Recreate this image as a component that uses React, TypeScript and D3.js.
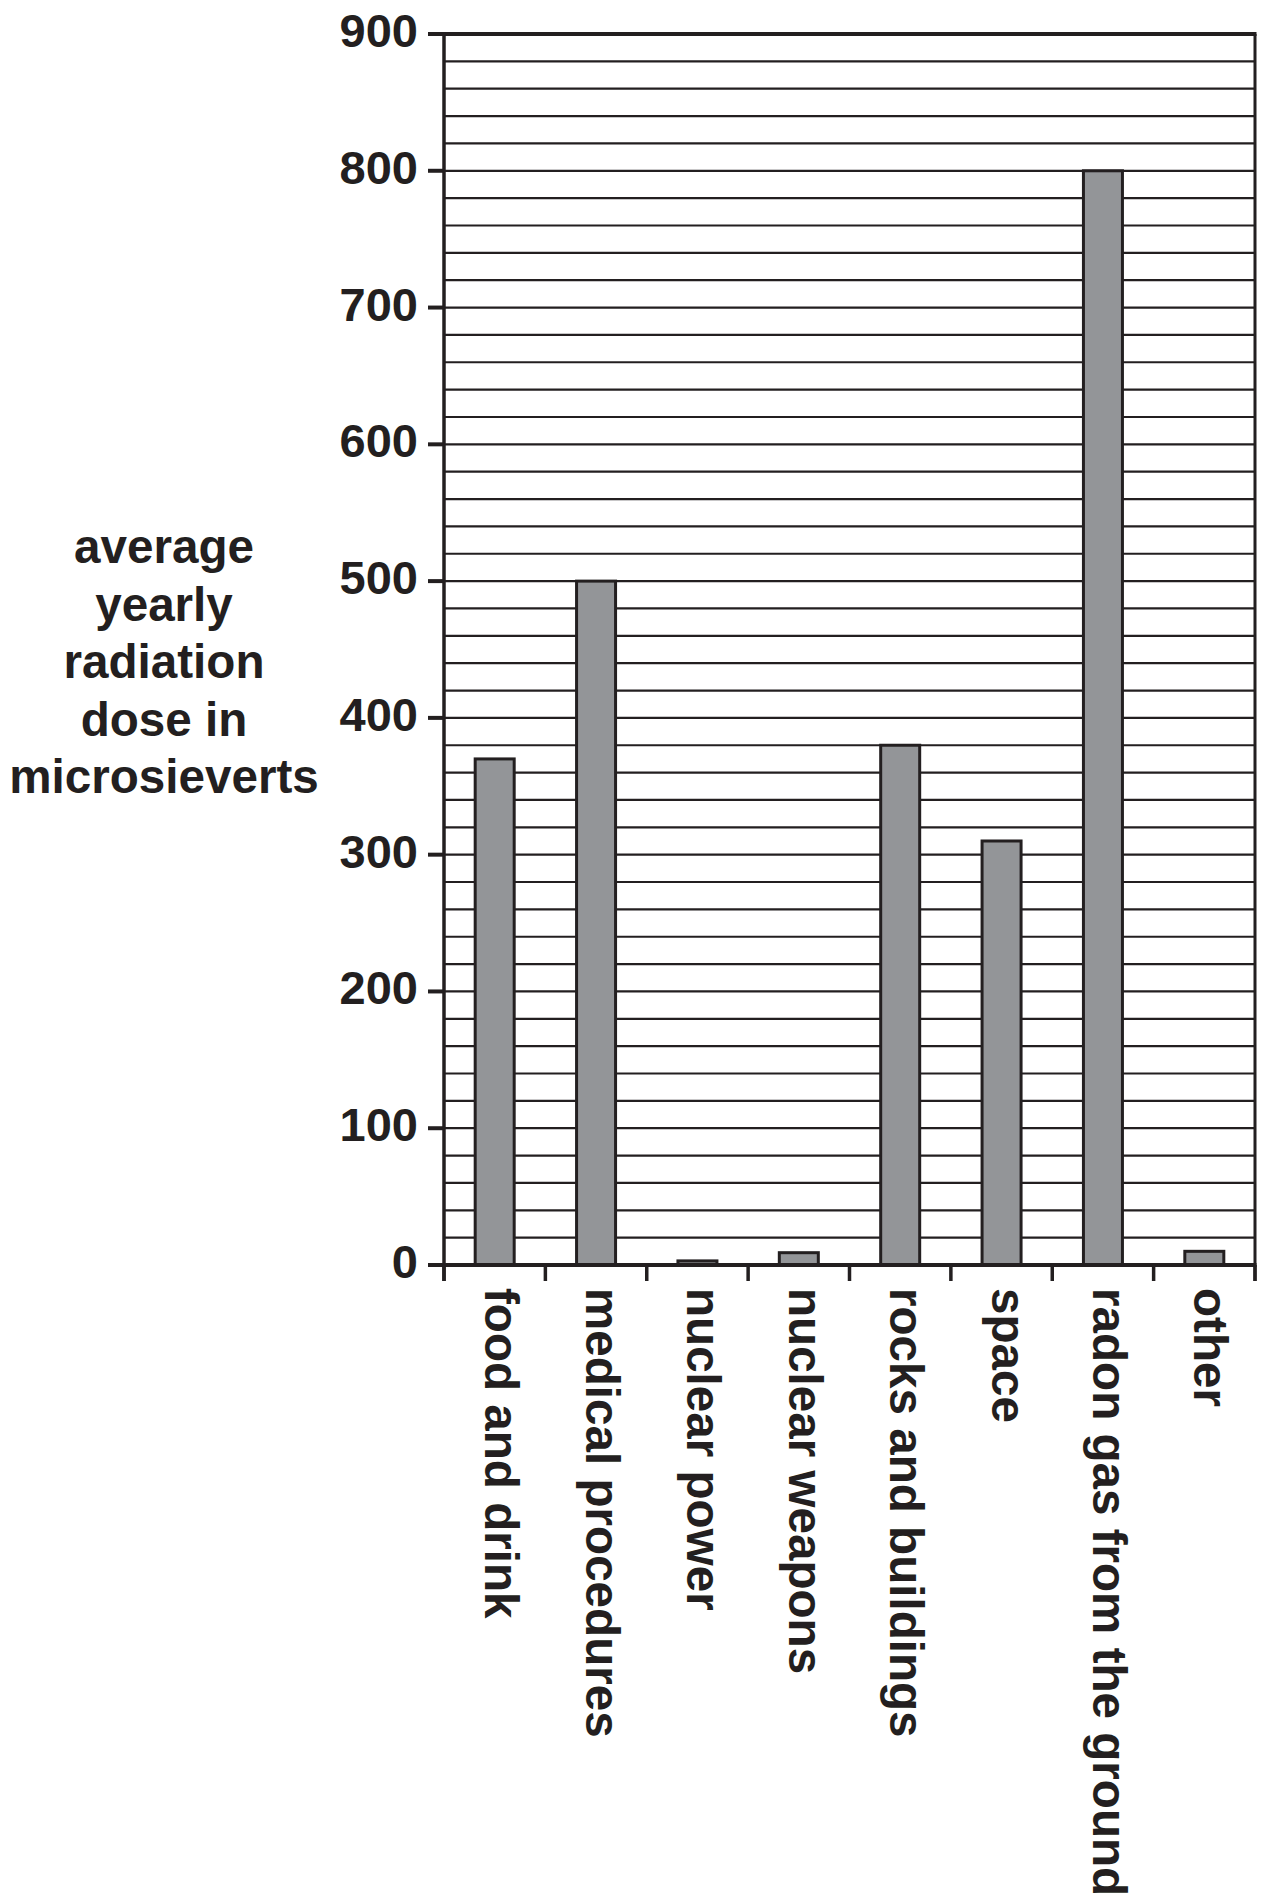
import React from "react";
import * as d3 from "d3";

const categories: string[] = [
  "food and drink",
  "medical procedures",
  "nuclear power",
  "nuclear weapons",
  "rocks and buildings",
  "space",
  "radon gas from the ground",
  "other",
];
const values: number[] = [370, 500, 3, 9, 380, 310, 800, 10];
const yTickValues: number[] = [0, 100, 200, 300, 400, 500, 600, 700, 800, 900];
const gridStep = 20;
const yTitleLines: string[] = ["average", "yearly", "radiation", "dose in", "microsieverts"];

const INK = "#231f20";
const BAR = "#939598";
const FONT = "'Liberation Sans', Arial, Helvetica, sans-serif";

export default function App() {
  const W = 1266;
  const H = 1901;
  const left = 444;
  const right = 1255;
  const top = 34;
  const bottom = 1265;
  const tickLen = 16;

  const y = d3.scaleLinear().domain([0, 900]).range([bottom, top]);
  const x = d3.scaleBand<string>().domain(categories).range([left, right]).padding(0);
  const bw = 39;

  const grid = d3.range(gridStep, 900, gridStep);
  const boundaries = categories.map((c) => x(c) as number).concat([right]);

  return (
    <svg
      width={W}
      height={H}
      viewBox={`0 0 ${W} ${H}`}
      style={{ position: "absolute", left: 0, top: 0, display: "block", background: "#fff" }}
      fontFamily={FONT}
      fontWeight="bold"
    >
      <rect x={0} y={0} width={W} height={H} fill="#fff" />
      {grid.map((g) => (
        <line key={g} x1={left} x2={right} y1={y(g)} y2={y(g)} stroke={INK} strokeWidth={2.2} />
      ))}
      <line x1={left - tickLen} x2={right + 1.5} y1={y(900)} y2={y(900)} stroke={INK} strokeWidth={4} />
      <line x1={right} x2={right} y1={y(900)} y2={bottom + tickLen} stroke={INK} strokeWidth={3} />
      {categories.map((c, i) => {
        const cx = (x(c) as number) + x.bandwidth() / 2;
        return (
          <rect
            key={c}
            x={cx - bw / 2}
            y={y(values[i])}
            width={bw}
            height={y(0) - y(values[i])}
            fill={BAR}
            stroke={INK}
            strokeWidth={3}
          />
        );
      })}
      <line x1={left} x2={left} y1={y(900) - 2} y2={bottom + tickLen} stroke={INK} strokeWidth={3.5} />
      <line x1={left - tickLen} x2={right + 1.5} y1={bottom} y2={bottom} stroke={INK} strokeWidth={4} />
      {yTickValues.map((t) => (
        <g key={t}>
          <line x1={left - tickLen} x2={left} y1={y(t)} y2={y(t)} stroke={INK} strokeWidth={4} />
          <text x={418} y={y(t) + 13} textAnchor="end" fontSize={47} fill={INK}>
            {t}
          </text>
        </g>
      ))}
      {boundaries.map((b, i) => (
        <line key={i} x1={b} x2={b} y1={bottom} y2={bottom + tickLen} stroke={INK} strokeWidth={3.5} />
      ))}
      {categories.map((c) => {
        const cx = (x(c) as number) + x.bandwidth() / 2;
        return (
          <text
            key={c}
            transform={`translate(${cx},1288) rotate(90)`}
            x={0}
            y={10}
            fontSize={47.6}
            fill={INK}
          >
            {c}
          </text>
        );
      })}
      {yTitleLines.map((l, i) => (
        <text key={l} x={164} y={563 + i * 57.5} textAnchor="middle" fontSize={47.6} fill={INK}>
          {l}
        </text>
      ))}
    </svg>
  );
}
